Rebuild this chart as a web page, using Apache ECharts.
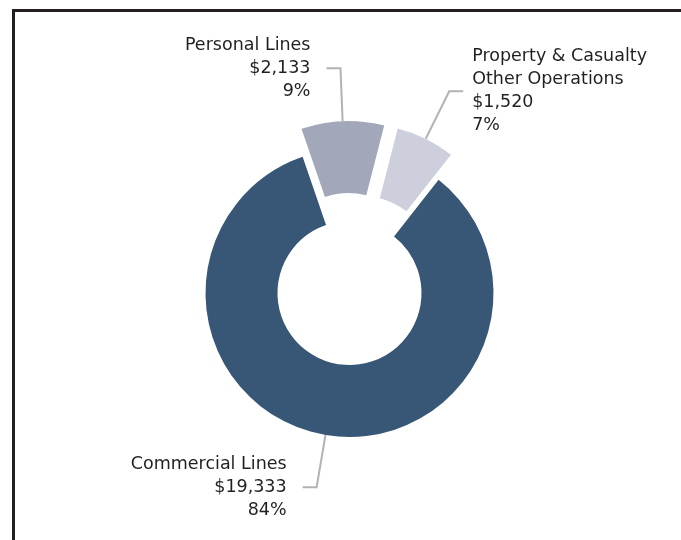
<!DOCTYPE html>
<html>
<head>
<meta charset="utf-8">
<script src="https://cdn.jsdelivr.net/npm/echarts@6/dist/echarts.min.js"></script>
<style>html,body{margin:0;padding:0;background:#fff}#c{width:681px;height:540px}</style>
</head>
<body>
<div id="c"></div>
<script>
const categories = ['Personal Lines', 'Property & Casualty\nOther Operations', 'Commercial Lines'];
const values = [2133, 1520, 19333];
const exploded = [true, true, false];
const colors = ['#a2a7b9', '#cdd0dc', '#385675'];

const chart = echarts.init(document.getElementById('c'), null, {renderer: 'canvas'});
const data = categories.map((n, i) => ({
  name: n, value: values[i], selected: exploded[i],
  itemStyle: {color: colors[i]},
  label: {distanceToLabelLine: i === 1 ? 9 : 16}
}));
chart.setOption({
  animation: false,
  graphic: [
    {type: 'line', shape: {x1: 12, y1: 10.5, x2: 681, y2: 10.5}, style: {stroke: '#231f20', lineWidth: 3}},
    {type: 'line', shape: {x1: 13.5, y1: 9, x2: 13.5, y2: 540}, style: {stroke: '#231f20', lineWidth: 3}}
  ],
  series: [{
    type: 'pie',
    center: [349.5, 293],
    radius: [72, 144],
    startAngle: 109,
    clockwise: true,
    percentPrecision: 0,
    selectedMode: 'multiple',
    selectedOffset: 28,
    avoidLabelOverlap: false,
    data: data,
    label: {
      show: true,
      position: 'outside',
      color: '#231f20',
      fontFamily: 'DejaVu Sans',
      fontSize: 17.5,
      lineHeight: 23,
      formatter: p => p.name + '\n$' + p.value.toLocaleString('en-US') + '\n' + p.percent + '%'
    },
    labelLine: {show: true, length: 53, length2: 14, lineStyle: {color: '#b3b3b3', width: 2}},
    emphasis: {disabled: true},
    select: {itemStyle: {}}
  }]
});
</script>
</body>
</html>
